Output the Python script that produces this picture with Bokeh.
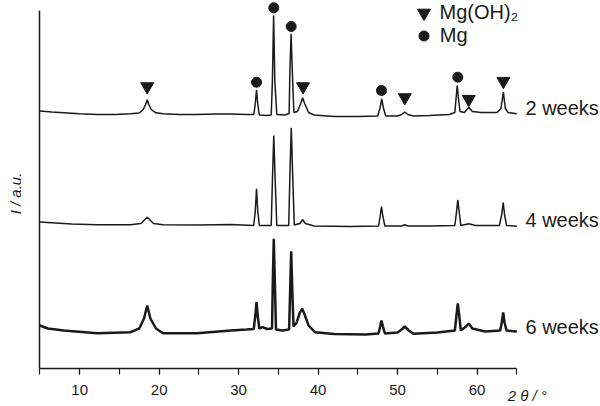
from bokeh.plotting import figure
from bokeh.models import Range1d, SingleIntervalTicker, FixedTicker, Label, Legend, LegendItem
from bokeh.embed import file_html
from bokeh.resources import INLINE

# ---- data (2theta in degrees, intensity in a.u. with vertical offsets) ----
tt_2w = [5.0, 6.5, 8.0, 10.0, 12.2, 14.5, 16.4, 17.5, 18.0, 18.3, 18.5, 18.7, 19.0, 19.6, 20.5,
         22.5, 24.8, 27.0, 29.0, 31.0, 31.9, 32.1, 32.25, 32.4, 32.6, 33.5, 34.1, 34.25, 34.4, 34.55,
         34.8, 35.8, 36.35, 36.45, 36.6, 36.75, 36.95, 37.4, 37.8, 38.05, 38.3, 38.8, 39.5, 42.0,
         45.0, 47.5, 47.8, 48.0, 48.2, 48.5, 50.0, 50.5, 50.9, 51.3, 52.0, 54.0, 56.5, 57.2, 57.35,
         57.5, 57.65, 57.85, 58.4, 58.95, 59.4, 60.5, 62.5, 63.0, 63.3, 63.55, 63.9, 65.0]
int_2w = [257.5, 256.5, 255.7, 254.7, 254.0, 254.0, 254.7, 255.5, 259.0, 264.0, 268.7, 264.0, 259.0,
          255.7, 254.7, 254.0, 254.0, 254.5, 254.5, 254.0, 254.0, 265.0, 278.7, 265.0, 253.5, 253.0,
          253.5, 288.0, 353.0, 288.0, 254.0, 253.5, 255.0, 298.0, 334.7, 298.0, 256.0, 257.0, 265.0,
          270.7, 265.0, 256.0, 253.5, 252.0, 252.0, 252.5, 261.0, 269.7, 261.0, 252.5, 252.5, 254.0,
          256.3, 254.0, 252.5, 253.0, 254.0, 256.0, 270.0, 283.0, 270.0, 257.0, 256.0, 261.3, 257.0,
          256.0, 256.0, 260.0, 276.3, 260.0, 256.0, 254.7]

tt_4w = [5.0, 7.0, 9.0, 12.2, 16.4, 17.7, 18.5, 19.3, 20.5, 25.0, 29.0, 31.9, 32.1, 32.25, 32.4,
         32.6, 34.1, 34.25, 34.42, 34.6, 34.8, 36.3, 36.45, 36.62, 36.8, 37.0, 37.7, 38.05, 38.4,
         39.5, 44.0, 47.6, 47.8, 47.97, 48.15, 48.4, 50.5, 50.9, 51.3, 54.0, 57.2, 57.4, 57.57,
         57.75, 57.95, 58.95, 59.8, 62.8, 63.1, 63.28, 63.45, 63.7, 65.0]
int_4w = [146.5, 145.5, 144.5, 143.7, 143.7, 145.0, 151.3, 145.0, 143.7, 143.5, 144.0, 143.0, 158.0,
          179.7, 158.0, 143.0, 143.0, 188.0, 233.0, 188.0, 143.0, 143.0, 193.0, 240.7, 193.0, 143.5,
          145.0, 148.7, 145.0, 142.5, 142.0, 142.5, 152.0, 162.0, 152.0, 142.5, 142.5, 143.7, 142.5,
          142.5, 143.0, 156.0, 168.7, 156.0, 143.0, 144.7, 143.0, 143.0, 154.0, 166.0, 154.0, 143.0,
          142.3]

tt_6w = [5.0, 6.0, 8.0, 12.2, 16.4, 17.5, 18.1, 18.5, 18.9, 19.6, 20.5, 24.8, 29.0, 31.0, 31.9,
         32.1, 32.25, 32.4, 32.6, 33.0, 33.6, 34.2, 34.3, 34.42, 34.55, 34.7, 35.5, 36.35, 36.48,
         36.61, 36.75, 36.9, 37.3, 37.7, 38.0, 38.3, 38.8, 39.6, 42.0, 46.0, 47.6, 47.8, 47.97,
         48.15, 48.4, 50.0, 50.5, 50.9, 51.4, 52.0, 55.0, 57.2, 57.4, 57.57, 57.75, 57.95, 58.6,
         58.95, 59.4, 61.0, 62.9, 63.1, 63.28, 63.45, 63.7, 65.0]
int_6w = [43.0, 40.0, 38.0, 35.3, 36.3, 40.0, 50.0, 63.0, 50.0, 40.0, 35.3, 35.3, 38.0, 39.0, 39.5,
          53.0, 66.3, 53.0, 40.0, 41.3, 39.5, 40.0, 88.0, 129.7, 88.0, 39.0, 38.0, 39.0, 78.0, 117.3,
          78.0, 42.0, 46.0, 56.0, 59.7, 54.0, 43.0, 36.3, 34.5, 34.0, 35.0, 42.0, 48.0, 42.0, 35.0,
          36.0, 39.0, 42.0, 38.0, 34.7, 36.0, 38.0, 53.0, 65.0, 53.0, 38.0, 42.0, 45.0, 40.0, 37.0,
          38.0, 46.0, 56.0, 46.0, 38.0, 37.0]

series_names = ["2 weeks", "4 weeks", "6 weeks"]

# phase markers (peak assignments, 2 weeks pattern)
mgoh2_tt = [18.5, 38.1, 50.9, 58.95, 63.3]
mgoh2_y = [282.0, 282.0, 271.0, 269.3, 287.3]
mg_tt = [32.25, 34.42, 36.61, 47.97, 57.57]
mg_y = [286.3, 360.7, 342.0, 278.0, 291.3]

x_ticks_interval = 10

FONT = "Liberation Sans"
INK = "#1a1a1a"

# the frame fills the whole canvas; axes are pinned at x=5 / y=0
p = figure(width=600, height=406, output_backend="svg", toolbar_location=None,
           x_range=Range1d(0.044, 75.52), y_range=Range1d(-38, 368),
           min_border=0, min_border_left=0, min_border_right=0,
           min_border_top=0, min_border_bottom=0)
p.outline_line_color = None
p.xgrid.visible = False
p.ygrid.visible = False
p.background_fill_color = "white"
p.border_fill_color = "white"

# x axis
p.xaxis.fixed_location = 0
p.xaxis.bounds = (5, 65)
p.xaxis.ticker = SingleIntervalTicker(interval=x_ticks_interval, num_minor_ticks=2)
p.xaxis.axis_line_width = 1.5
p.xaxis.axis_line_color = INK
p.xaxis.major_tick_out = 6
p.xaxis.major_tick_in = 0
p.xaxis.minor_tick_out = 6
p.xaxis.minor_tick_in = 0
p.xaxis.major_tick_line_width = 1.2
p.xaxis.minor_tick_line_width = 1.2
p.xaxis.major_tick_line_color = INK
p.xaxis.minor_tick_line_color = INK
p.xaxis.major_label_text_font = FONT
p.xaxis.major_label_text_font_size = "15px"
p.xaxis.major_label_text_color = INK
p.xaxis.major_label_standoff = 10

# y axis: spine only, no ticks
p.yaxis.fixed_location = 5
p.yaxis.bounds = (0, 358)
p.yaxis.ticker = FixedTicker(ticks=[])
p.yaxis.axis_line_width = 1.5
p.yaxis.axis_line_color = INK
p.yaxis.major_tick_line_color = None
p.yaxis.minor_tick_line_color = None

# traces
p.line(tt_2w, int_2w, line_color=INK, line_width=1.5)
p.line(tt_4w, int_4w, line_color=INK, line_width=1.5)
p.line(tt_6w, int_6w, line_color=INK, line_width=2.5)

# phase markers
tri = p.scatter(mgoh2_tt, mgoh2_y, marker="inverted_triangle", size=13, fill_color=INK,
                line_color=INK)
circ = p.scatter(mg_tt, mg_y, marker="circle", size=10, fill_color=INK, line_color=INK)

# legends (one per entry so the key size can be controlled)
leg1 = Legend(items=[LegendItem(label="Mg(OH)\u2082", renderers=[tri])], location=(406.5, 377.2),
              glyph_width=33, glyph_height=33, label_standoff=0, padding=0, margin=0,
              border_line_color=None, background_fill_alpha=0,
              label_text_font=FONT, label_text_font_size="20px", label_text_color=INK)
leg2 = Legend(items=[LegendItem(label="Mg", renderers=[circ])], location=(410.8, 358.5),
              glyph_width=25, glyph_height=25, label_standoff=4, padding=0, margin=0,
              border_line_color=None, background_fill_alpha=0,
              label_text_font=FONT, label_text_font_size="20px", label_text_color=INK)
p.add_layout(leg1)
p.add_layout(leg2)

# series labels
for name, yy in zip(series_names, [261, 149, 42]):
    p.add_layout(Label(x=66.08, y=yy, text=name, text_font=FONT, text_font_size="20px",
                       text_color=INK, text_align="left", text_baseline="middle"))

# axis titles
p.add_layout(Label(x=66.3, y=-27, text="2 \u03b8 / \u00b0", text_font=FONT, text_font_size="15px",
                   text_font_style="italic", text_color=INK, text_align="center",
                   text_baseline="middle"))
p.add_layout(Label(x=1.93, y=175, text="I / a.u.", text_font=FONT, text_font_size="15px",
                   text_font_style="italic", text_color=INK, text_align="center",
                   text_baseline="middle", angle=1.5708))

open("out.html", "w").write(file_html(p, INLINE))
